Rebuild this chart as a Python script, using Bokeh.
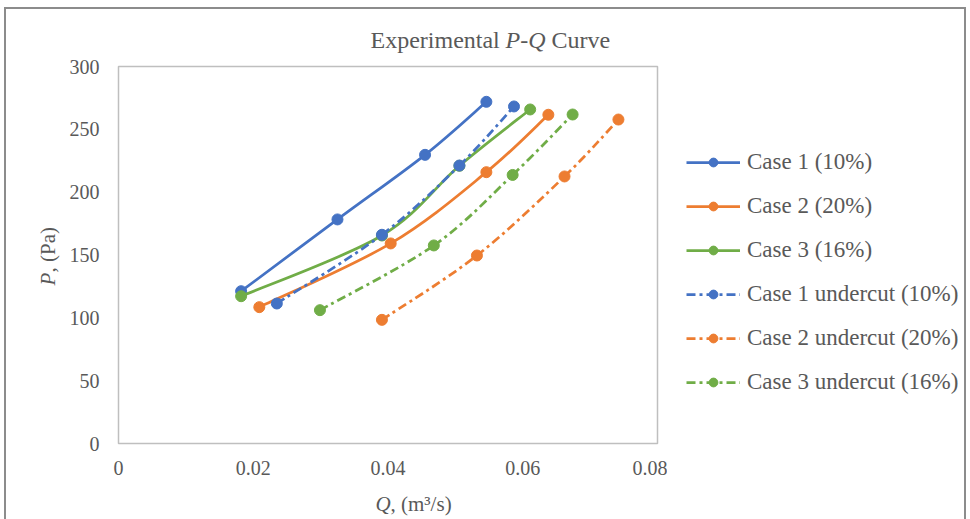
import numpy as np
from bokeh.plotting import figure
from bokeh.layouts import row, column
from bokeh.models import Range1d, FixedTicker, Legend, LegendItem, Label, ColumnDataSource
from bokeh.embed import file_html
from bokeh.resources import INLINE

# ---------------- data ----------------
series_names = ["Case 1 (10%)", "Case 2 (20%)", "Case 3 (16%)",
                "Case 1 undercut (10%)", "Case 2 undercut (20%)", "Case 3 undercut (16%)"]
case1_q = [0.0182, 0.0325, 0.0455, 0.0546]
case1_p = [121.2, 178.3, 229.7, 271.9]
case2_q = [0.0209, 0.0404, 0.0546, 0.0638]
case2_p = [108.5, 159.2, 215.9, 261.6]
case3_q = [0.0182, 0.0391, 0.0506, 0.0611]
case3_p = [117.2, 165.5, 221.0, 265.8]
case1u_q = [0.0235, 0.0391, 0.0506, 0.0587]
case1u_p = [111.4, 166.1, 221.2, 268.2]
case2u_q = [0.0391, 0.0532, 0.0662, 0.0742]
case2u_p = [98.4, 149.6, 212.5, 257.8]
case3u_q = [0.0299, 0.0468, 0.0585, 0.0674]
case3u_p = [106.1, 157.6, 213.7, 261.8]
x_tick_vals = [0, 0.02, 0.04, 0.06, 0.08]
x_tick_labels = ["0", "0.02", "0.04", "0.06", "0.08"]
y_tick_vals = [0, 50, 100, 150, 200, 250, 300]
y_tick_labels = ["0", "50", "100", "150", "200", "250", "300"]

# ---------------- styles ----------------
BLUE, ORANGE, GREEN = "#4472C4", "#ED7D31", "#70AD47"
TXT = "#595959"
FONT = "Liberation Serif"
series = [
    (case1_q, case1_p, BLUE, "solid"),
    (case2_q, case2_p, ORANGE, "solid"),
    (case3_q, case3_p, GREEN, "solid"),
    (case1u_q, case1u_p, BLUE, "9 4 3 4"),
    (case2u_q, case2u_p, ORANGE, "9 4 3 4"),
    (case3u_q, case3u_p, GREEN, "9 4 3 4"),
]


def smooth_segments(xs, ys):
    """Bezier control points of a smoothed line through the given points."""
    x = np.asarray(xs, float); y = np.asarray(ys, float); n = len(x)
    xp = np.concatenate([[x[0]], x, [x[-1]]]); yp = np.concatenate([[y[0]], y, [y[-1]]])
    d = dict(x0=[], y0=[], x1=[], y1=[], cx0=[], cy0=[], cx1=[], cy1=[])
    for i in range(n - 1):
        j = i + 1
        d["x0"].append(x[i]); d["y0"].append(y[i]); d["x1"].append(x[i + 1]); d["y1"].append(y[i + 1])
        d["cx0"].append(x[i] + (xp[j + 1] - xp[j - 1]) / 6.0)
        d["cy0"].append(y[i] + (yp[j + 1] - yp[j - 1]) / 6.0)
        d["cx1"].append(x[i + 1] - (xp[j + 2] - xp[j]) / 6.0)
        d["cy1"].append(y[i + 1] - (yp[j + 2] - yp[j]) / 6.0)
    return d


def blank_fig(w, h):
    f = figure(width=w, height=h, output_backend="svg", toolbar_location=None,
               x_range=Range1d(1, 2), y_range=Range1d(1000, 2000),
               x_axis_location=None, y_axis_location=None,
               min_border=0, min_border_left=0, min_border_right=0,
               min_border_top=0, min_border_bottom=0)
    f.grid.visible = False
    f.outline_line_color = None
    return f


def lab(fig, x, y, text, size, italic=False, angle=0.0):
    fig.add_layout(Label(x=x, y=y, x_units="canvas", y_units="canvas", text=text, angle=angle,
                         text_baseline="alphabetic", text_font=FONT,
                         text_font_style="italic" if italic else "normal",
                         text_font_size=size, text_color=TXT))


W = 958
TOP_H = 44
P_TOP = 57 - TOP_H
MID_H = P_TOP + 377 + 40
BOT_H = 510 - TOP_H - MID_H
YL_W, P_W = 56, 605

# ---------------- main plot ----------------
p = figure(width=P_W, height=MID_H, output_backend="svg", toolbar_location=None,
           x_range=Range1d(0, 0.08), y_range=Range1d(0, 300),
           min_border_left=56, min_border_right=10, min_border_top=P_TOP, min_border_bottom=40)
p.grid.visible = False
p.outline_line_color = "#bfbfbf"
p.outline_line_width = 1.5
for ax in (p.xaxis[0], p.yaxis[0]):
    ax.axis_line_color = None
    ax.major_tick_line_color = None
    ax.minor_tick_line_color = None
    ax.major_tick_out = 0
    ax.major_tick_in = 0
    ax.major_label_text_font = FONT
    ax.major_label_text_font_size = "20px"
    ax.major_label_text_color = TXT
p.xaxis.ticker = FixedTicker(ticks=x_tick_vals)
p.xaxis.major_label_overrides = {v: s for v, s in zip(x_tick_vals, x_tick_labels)}
p.xaxis.major_label_standoff = 17
p.yaxis.ticker = FixedTicker(ticks=y_tick_vals)
p.yaxis.major_label_overrides = {v: s for v, s in zip(y_tick_vals, y_tick_labels)}
p.yaxis.major_label_standoff = 19

# ---------------- legend panel ----------------
pl = blank_fig(W - YL_W - P_W, MID_H)
items = []
for name, (qs, ps, color, dash) in zip(series_names, series):
    src = ColumnDataSource(smooth_segments(qs, ps))
    kw = dict(x0="x0", y0="y0", x1="x1", y1="y1", cx0="cx0", cy0="cy0", cx1="cx1", cy1="cy1",
              line_color=color, line_width=2.75, line_dash=dash)
    p.bezier(source=src, **kw)
    p.scatter(qs, ps, size=11, marker="circle", fill_color=color, line_color=color)
    # same series in the legend panel (outside its visible ranges) to supply the legend glyphs
    lb = pl.bezier(source=src, **kw)
    ls = pl.scatter(qs, ps, size=11, marker="circle", fill_color=color, line_color=color)
    items.append(LegendItem(label=name, renderers=[lb, ls]))

legend = Legend(items=items, location=(19, 48), orientation="vertical",
                glyph_width=54, glyph_height=22, label_height=22, spacing=18,
                label_standoff=7, padding=10, margin=0,
                label_text_font=FONT, label_text_font_size="23px",
                label_text_color=TXT, border_line_color=None, background_fill_alpha=0)
pl.add_layout(legend, "center")

# ---------------- title ----------------
pt = blank_fig(W, TOP_H)
lab(pt, 364, 30, "Experimental", "24px")
lab(pt, 499, 30, "P-Q", "24px", italic=True)
lab(pt, 545, 30, "Curve", "24px")

# ---------------- y axis title ----------------
py = blank_fig(YL_W, MID_H)
lab(py, 41, 221 + P_TOP - 2, "P", "21px", italic=True, angle=np.pi / 2)
lab(py, 41, 208 + P_TOP - 2, ", (Pa)", "21px", angle=np.pi / 2)

# ---------------- x axis title ----------------
px = blank_fig(W, BOT_H)
lab(px, 369, 20, "Q", "21px", italic=True)
lab(px, 384, 20, ", (m³/s)", "21px")

lay = column(pt, row(py, p, pl), px,
             styles={"border": "2px solid #8c8c8c", "margin-left": "4px", "margin-top": "7px"})
open("out.html", "w").write(file_html(lay, INLINE))
